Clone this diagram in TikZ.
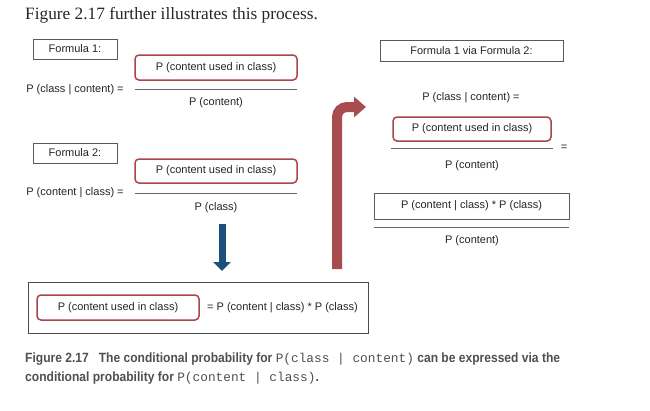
\documentclass[tikz,border=0pt]{standalone}
\usepackage{fontspec}
\setmainfont{Liberation Sans}
\newfontfamily\headfont{Liberation Serif}
\newfontfamily\capfont[FakeStretch=0.9]{Liberation Sans}
\newfontfamily\capmono{Liberation Mono}
\usetikzlibrary{arrows.meta}
\definecolor{boxred}{HTML}{A8474A}
\definecolor{arrred}{HTML}{A84C4F}
\definecolor{arrblue}{HTML}{1C4F7C}
\definecolor{txt}{HTML}{262626}
\definecolor{capgray}{HTML}{505050}
\tikzset{
  graybox/.style={draw=black!65, line width=0.9pt, inner sep=0pt, font=\fontsize{11}{13}\selectfont, text=txt},
  redbox/.style={draw=boxred, line width=1.5pt, rounded corners=4pt, inner sep=0pt, font=\fontsize{11}{13}\selectfont, text=txt},
  lbl/.style={inner sep=0pt, font=\fontsize{11}{13}\selectfont, text=txt},
  fracline/.style={draw=black!60, line width=0.9pt},
}
\begin{document}
\begin{tikzpicture}[x=1pt,y=-1pt]
\useasboundingbox[fill=white] (0,0) rectangle (650,410);
% header
\node[anchor=base west, inner sep=0pt, text=black!85, font=\headfont\fontsize{17.3}{20}\selectfont] (head) at (25,19.5) {Figure 2.17 further illustrates this process.};
% Formula 1
\node[graybox, minimum width=84, minimum height=20] (f1) at (75,49) {Formula 1:};
\node[redbox, minimum width=162, minimum height=25] (n1) at (216,67.5) {P (content used in class)};
\node[lbl] (l1) at (75,90) {P (class | content) =};
\coordinate (a1) at (135,89); \coordinate (b1) at (297,89);
\draw[fracline] (a1) -- (b1);
\node[lbl] (d1) at (216,102.5) {P (content)};
% Formula 2
\node[graybox, minimum width=84, minimum height=20] (f2) at (75,153) {Formula 2:};
\node[redbox, minimum width=162, minimum height=24] (n2) at (216,171) {P (content used in class)};
\node[lbl] (l2) at (75,193) {P (content | class) =};
\coordinate (a2) at (135,193); \coordinate (b2) at (297,193);
\draw[fracline] (a2) -- (b2);
\node[lbl] (d2) at (216,208) {P (class)};
% blue arrow
\coordinate (bs) at (222,224); \coordinate (be) at (222,271);
\draw[arrblue, line width=7pt, -{Triangle[width=17pt,length=9pt]}] (bs) -- (be);
% bottom box
\node[draw=black!70, line width=0.9pt, minimum width=340, minimum height=51, inner sep=0pt] (bot) at (198,307.5) {};
\node[redbox, minimum width=162, minimum height=25] (n3) at (118,307.5) {P (content used in class)};
\node[lbl, anchor=west] (r3) at (207,307.5) {= P (content | class) * P (class)};
% red arrow
\coordinate (rs) at (337,269); \coordinate (re) at (366,107);
\draw[arrred, line width=10pt, rounded corners=10pt, -{Triangle[width=20pt,length=12pt]}] (rs) |- (re);
% right side
\node[graybox, minimum width=183, minimum height=21] (f3) at (471.5,50.5) {Formula 1 via Formula 2:};
\node[lbl] (l3) at (471,98) {P (class | content) =};
\node[redbox, minimum width=158, minimum height=24] (n4) at (472,129) {P (content used in class)};
\coordinate (a3) at (391,148); \coordinate (b3) at (553,148);
\draw[fracline] (a3) -- (b3);
\node[lbl] (eq) at (564,148) {=};
\node[lbl] (d3) at (472,166) {P (content)};
\node[graybox, minimum width=195, minimum height=26] (n5) at (471.5,206) {P (content | class) * P (class)};
\coordinate (a4) at (374,227); \coordinate (b4) at (569,227);
\draw[fracline] (a4) -- (b4);
\node[lbl] (d4) at (472,241) {P (content)};
% caption
\node[anchor=base west, inner sep=0pt, text=capgray, font=\capfont\bfseries\fontsize{13.4}{15}\selectfont] (cap1) at (25,362.5)
  {Figure 2.17\hspace{10pt}The conditional probability for {\capmono\mdseries\fontsize{12.8}{15}\selectfont P(class | content)} can be expressed via the};
\node[anchor=base west, inner sep=0pt, text=capgray, font=\capfont\bfseries\fontsize{13.4}{15}\selectfont] (cap2) at (25,381.5)
  {conditional probability for {\capmono\mdseries\fontsize{12.8}{15}\selectfont P(content | class)}.};
\end{tikzpicture}
\end{document}
